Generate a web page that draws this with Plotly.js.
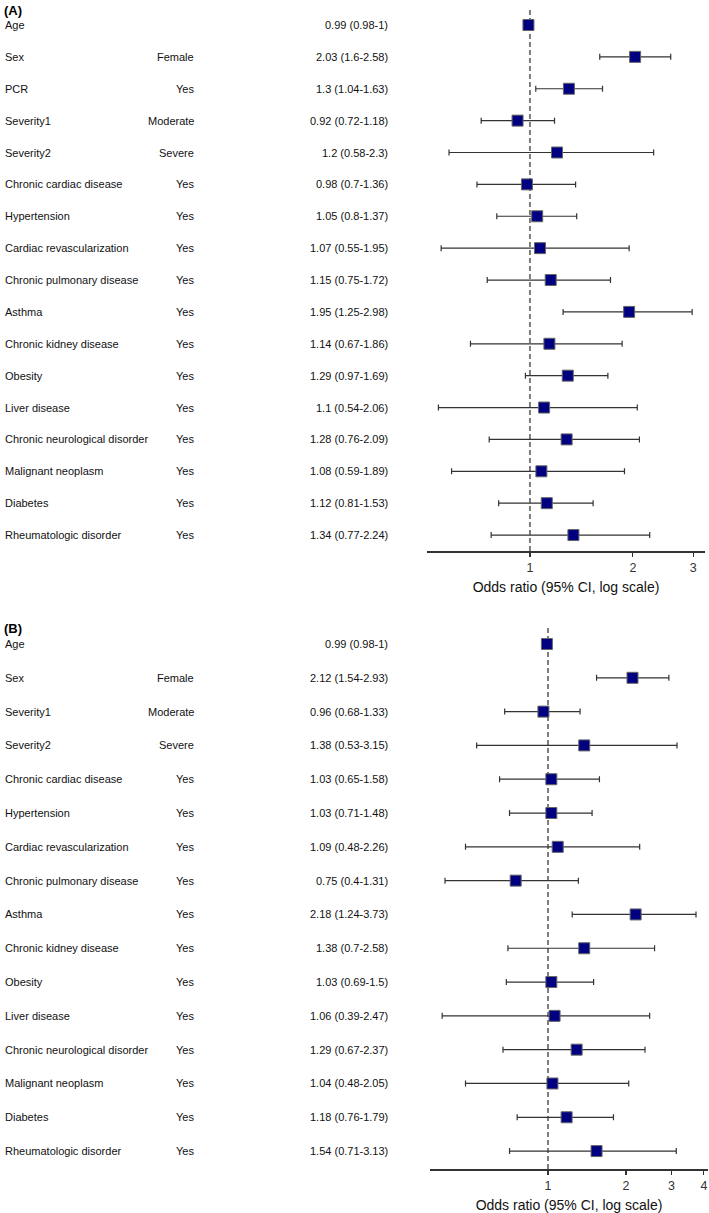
<!DOCTYPE html>
<html><head><meta charset="utf-8">
<script src="https://cdn.plot.ly/plotly-3.0.1.min.js"></script>
<style>html,body{margin:0;padding:0;background:#fff}#chart{width:709px;height:1213px}</style>
</head><body><div id="chart"></div>
<script>
var varsA = ["Age","Sex","PCR","Severity1","Severity2","Chronic cardiac disease","Hypertension","Cardiac revascularization","Chronic pulmonary disease","Asthma","Chronic kidney disease","Obesity","Liver disease","Chronic neurological disorder","Malignant neoplasm","Diabetes","Rheumatologic disorder"];
var levelsA = ["","Female","Yes","Moderate","Severe","Yes","Yes","Yes","Yes","Yes","Yes","Yes","Yes","Yes","Yes","Yes","Yes"];
var orA = [0.99,2.03,1.3,0.92,1.2,0.98,1.05,1.07,1.15,1.95,1.14,1.29,1.1,1.28,1.08,1.12,1.34];
var loA = [0.98,1.6,1.04,0.72,0.58,0.7,0.8,0.55,0.75,1.25,0.67,0.97,0.54,0.76,0.59,0.81,0.77];
var hiA = [1,2.58,1.63,1.18,2.3,1.36,1.37,1.95,1.72,2.98,1.86,1.69,2.06,2.09,1.89,1.53,2.24];

var varsB = ["Age","Sex","Severity1","Severity2","Chronic cardiac disease","Hypertension","Cardiac revascularization","Chronic pulmonary disease","Asthma","Chronic kidney disease","Obesity","Liver disease","Chronic neurological disorder","Malignant neoplasm","Diabetes","Rheumatologic disorder"];
var levelsB = ["","Female","Moderate","Severe","Yes","Yes","Yes","Yes","Yes","Yes","Yes","Yes","Yes","Yes","Yes","Yes"];
var orB = [0.99,2.12,0.96,1.38,1.03,1.03,1.09,0.75,2.18,1.38,1.03,1.06,1.29,1.04,1.18,1.54];
var loB = [0.98,1.54,0.68,0.53,0.65,0.71,0.48,0.4,1.24,0.7,0.69,0.39,0.67,0.48,0.76,0.71];
var hiB = [1,2.93,1.33,3.15,1.58,1.48,2.26,1.31,3.73,2.58,1.5,2.47,2.37,2.05,1.79,3.13];

var ticksA = [1,2,3];
var ticksB = [1,2,3,4];
var axisTitle = "Odds ratio (95% CI, log scale)";

function idx(a){return a.map(function(_,i){return i;});}
function mkTrace(or, lo, hi, xa, ya){
  return {
    type:'scatter', mode:'markers', x:or, y:idx(or), xaxis:xa, yaxis:ya,
    marker:{symbol:'square', size:11, color:'#000080', line:{color:'#666', width:1}},
    error_x:{type:'data', symmetric:false,
      array: hi.map(function(h,i){return h-or[i];}),
      arrayminus: lo.map(function(l,i){return or[i]-l;}),
      color:'#333', thickness:1.2, width:3},
    hoverinfo:'skip', showlegend:false, cliponaxis:false
  };
}
var font = "Liberation Sans, Arial, sans-serif";
var anns = [];
function addText(vars, levels, or, lo, hi, yr){
  vars.forEach(function(v,i){
    anns.push({xref:'paper', yref:yr, x:3/709, y:i, xanchor:'left', yanchor:'middle', text:v, showarrow:false, font:{family:font,size:11,color:'#111'}});
    if(levels[i]) anns.push({xref:'paper', yref:yr, x:196/709, y:i, xanchor:'right', yanchor:'middle', text:levels[i], showarrow:false, font:{family:font,size:11,color:'#111'}});
    anns.push({xref:'paper', yref:yr, x:390/709, y:i, xanchor:'right', yanchor:'middle', text:or[i]+' ('+lo[i]+'-'+hi[i]+')', showarrow:false, font:{family:font,size:11,color:'#111'}});
  });
}
addText(varsA, levelsA, orA, loA, hiA, 'y');
addText(varsB, levelsB, orB, loB, hiB, 'y2');
anns.push({xref:'paper', yref:'paper', x:2/709, y:1-1/1213, xanchor:'left', yanchor:'top', text:'<b>(A)</b>', showarrow:false, font:{family:font,size:13,color:'#000'}});
anns.push({xref:'paper', yref:'paper', x:2/709, y:1-619/1213, xanchor:'left', yanchor:'top', text:'<b>(B)</b>', showarrow:false, font:{family:font,size:13,color:'#000'}});

function xax(dom, rng, tv, anchor){
  return {type:'log', domain:dom, range:rng, tickvals:tv, ticktext:tv.map(String), anchor:anchor,
    showline:true, linecolor:'#333', linewidth:1.5, ticks:'outside', ticklen:4, tickcolor:'#333', tickwidth:1.2,
    showgrid:false, zeroline:false, tickfont:{family:font,size:12.5,color:'#333'},
    title:{text:axisTitle, font:{family:font,size:14,color:'#111'}, standoff:8}};
}
function yax(dom, rng, anchor){
  return {domain:dom, range:rng, anchor:anchor, showline:false, showgrid:false, zeroline:false, showticklabels:false, ticks:''};
}
var layout = {
  width:709, height:1213, margin:{l:0,r:0,t:0,b:0}, paper_bgcolor:'#fff', plot_bgcolor:'rgba(0,0,0,0)',
  xaxis: xax([427/709, 705/709], [Math.log10(0.5), Math.log10(3.25)], ticksA, 'y'),
  yaxis: yax([1-551/1213, 1-8/1213], [16.5, -0.533], 'x'),
  xaxis2: xax([430/709, 708/709], [Math.log10(0.35), Math.log10(4.15)], ticksB, 'y2'),
  yaxis2: yax([1-1169/1213, 1-625/1213], [15.53, -0.562], 'x2'),
  shapes:[
    {type:'line', xref:'x', yref:'y domain', x0:1, x1:1, y0:0, y1:1, line:{color:'#555', width:1.5, dash:'5px,3px'}, layer:'below'},
    {type:'line', xref:'x2', yref:'y2 domain', x0:1, x1:1, y0:0, y1:1, line:{color:'#555', width:1.5, dash:'5px,3px'}, layer:'below'}
  ],
  annotations: anns,
  showlegend:false
};
Plotly.newPlot('chart', [mkTrace(orA,loA,hiA,'x','y'), mkTrace(orB,loB,hiB,'x2','y2')], layout, {staticPlot:true, displayModeBar:false});
</script></body></html>
